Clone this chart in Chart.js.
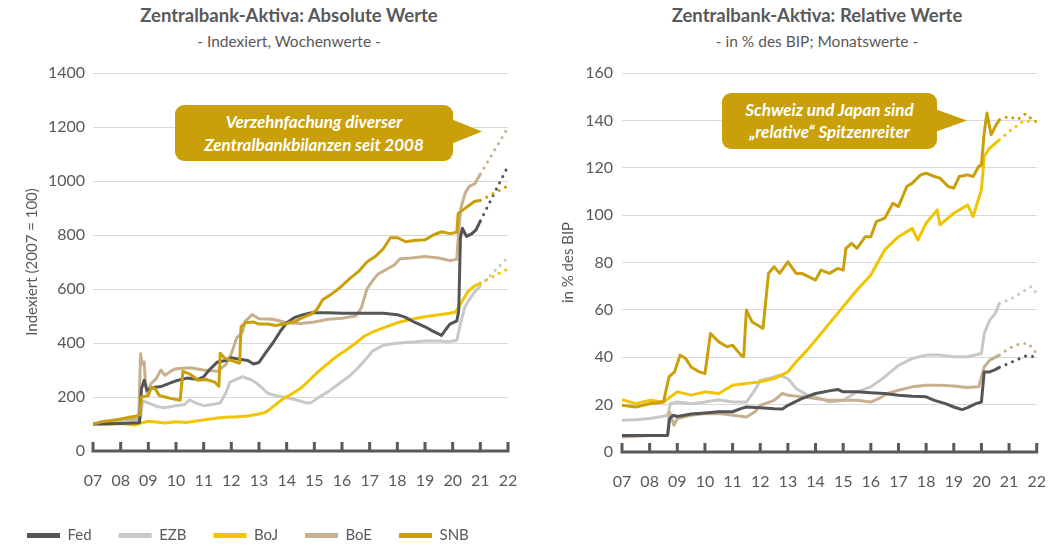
<!DOCTYPE html>
<html>
<head>
<meta charset="utf-8">
<script src="https://cdn.jsdelivr.net/npm/chart.js@4.4.1/dist/chart.umd.min.js"></script>
<style>
  body { margin: 0; background: #fff; width: 1058px; height: 548px; overflow: hidden; position: relative; font-family: Lato, sans-serif; color: #595959; }
  #absChart { position: absolute; left: 0; top: 0; }
  #relChart { position: absolute; left: 548px; top: 0; }
  .title { position: absolute; width: 400px; text-align: center; font-weight: bold; font-size: 18.5px; top: 4px; line-height: 22px; }
  .subtitle { position: absolute; width: 400px; text-align: center; font-size: 15.5px; top: 31px; line-height: 20px; }
  .callout { position: absolute; background: #c9a00a; color: #fff; font: italic bold 17px Lato, sans-serif; text-align: center; border-radius: 9px; line-height: 23px; display: flex; align-items: center; justify-content: center; }
  .pointer { position: absolute; background: #c9a00a; clip-path: polygon(0 0, 100% 50%, 0 100%); }
</style>
</head>
<body>
<div class="title" style="left:89px;">Zentralbank-Aktiva: Absolute Werte</div>
<div class="subtitle" style="left:89px;">- Indexiert, Wochenwerte -</div>
<div class="title" style="left:617px;">Zentralbank-Aktiva: Relative Werte</div>
<div class="subtitle" style="left:617px;">- in % des BIP; Monatswerte -</div>

<canvas id="absChart" width="570" height="548"></canvas>
<canvas id="relChart" width="510" height="500"></canvas>

<div class="callout" style="left:175px; top:105px; width:278px; height:56px;">Verzehnfachung diverser<br>Zentralbankbilanzen seit 2008</div>
<div class="pointer" style="left:451px; top:119px; width:31px; height:25px;"></div>
<div class="callout" style="left:722px; top:93px; width:215px; height:56px; line-height:22px;">Schweiz und Japan sind<br>„relative“ Spitzenreiter</div>
<div class="pointer" style="left:935px; top:109px; width:32px; height:23px;"></div>

<script>
// Legend / series
const banks = ['Fed', 'EZB', 'BoJ', 'BoE', 'SNB'];
const bankColors = ['#555555', '#c8c8c8', '#f0c400', '#c8b08e', '#c9a00a'];
const drawOrder = [1, 4, 2, 3, 0]; // SNB on top
const yearLabels = ['07', '08', '09', '10', '11', '12', '13', '14', '15', '16', '17', '18', '19', '20', '21', '22'];

// Absolute values, index 2007 = 100 (weekly)
const fedAbs = [[2007,100],[2007.5,101],[2008,102],[2008.3,103],[2008.68,105],[2008.75,230],[2008.85,262],[2008.95,225],[2009.2,235],[2009.5,240],[2009.8,252],[2010,260],[2010.4,270],[2010.8,265],[2011,275],[2011.2,300],[2011.5,330],[2011.8,335],[2012,345],[2012.3,340],[2012.6,335],[2012.8,322],[2013,328],[2013.25,365],[2013.5,400],[2013.75,440],[2014,475],[2014.3,495],[2014.6,505],[2014.9,512],[2015.5,512],[2016,510],[2016.5,510],[2017,510],[2017.5,510],[2018,505],[2018.3,495],[2018.6,478],[2019,460],[2019.3,443],[2019.6,428],[2019.75,450],[2019.9,470],[2020.15,482],[2020.22,520],[2020.28,790],[2020.35,825],[2020.5,795],[2020.7,805],[2020.85,820],[2021,852]];
const ezbAbs = [[2007,100],[2007.5,105],[2008,110],[2008.4,112],[2008.7,118],[2008.8,185],[2009,178],[2009.3,165],[2009.6,160],[2010,168],[2010.3,172],[2010.5,190],[2010.7,178],[2011,168],[2011.3,172],[2011.6,178],[2011.8,215],[2011.95,255],[2012.1,262],[2012.4,275],[2012.7,265],[2012.9,252],[2013.1,235],[2013.3,215],[2013.6,205],[2014,198],[2014.4,188],[2014.7,178],[2014.9,180],[2015.1,195],[2015.5,220],[2015.9,250],[2016.3,280],[2016.6,310],[2016.9,345],[2017.1,370],[2017.5,392],[2017.9,398],[2018.3,402],[2018.7,405],[2019,407],[2019.5,407],[2019.9,405],[2020.15,410],[2020.3,480],[2020.45,535],[2020.6,560],[2020.8,590],[2021,612]];
const bojAbs = [[2007,100],[2007.5,98],[2008,102],[2008.5,96],[2008.8,105],[2009,110],[2009.3,107],[2009.6,104],[2010,108],[2010.4,106],[2010.8,112],[2011.2,118],[2011.5,122],[2011.8,125],[2012.2,127],[2012.6,130],[2012.9,135],[2013.2,142],[2013.4,155],[2013.6,172],[2013.9,195],[2014.2,212],[2014.5,232],[2014.8,260],[2015.1,290],[2015.5,325],[2015.8,350],[2016.1,370],[2016.5,400],[2016.8,425],[2017.2,445],[2017.6,460],[2018,475],[2018.5,488],[2019,497],[2019.5,505],[2019.9,510],[2020.1,515],[2020.3,548],[2020.55,590],[2020.8,612],[2021,622]];
const boeAbs = [[2007,100],[2007.4,105],[2007.8,115],[2008.1,120],[2008.4,118],[2008.65,115],[2008.72,360],[2008.78,320],[2008.85,330],[2008.9,250],[2008.95,215],[2009.1,250],[2009.3,270],[2009.45,300],[2009.6,280],[2009.8,295],[2010,305],[2010.5,308],[2011,300],[2011.5,295],[2011.8,320],[2012,360],[2012.2,420],[2012.4,440],[2012.5,480],[2012.75,505],[2013,490],[2013.5,488],[2014,475],[2014.5,472],[2015,478],[2015.5,488],[2016,492],[2016.5,500],[2016.7,530],[2016.9,600],[2017.1,630],[2017.3,655],[2017.6,672],[2017.9,690],[2018.1,712],[2018.5,715],[2019,720],[2019.5,715],[2019.9,705],[2020.15,710],[2020.22,820],[2020.3,900],[2020.45,955],[2020.6,980],[2020.8,990],[2021,1025]];
const snbAbs = [[2007,100],[2007.3,108],[2007.6,112],[2008,118],[2008.3,125],[2008.6,130],[2008.7,135],[2008.75,200],[2009,205],[2009.1,235],[2009.25,230],[2009.4,205],[2009.6,200],[2009.8,195],[2010.15,188],[2010.25,295],[2010.5,285],[2010.8,262],[2011.1,265],[2011.4,255],[2011.55,240],[2011.6,362],[2011.75,345],[2012,335],[2012.3,325],[2012.35,460],[2012.5,475],[2012.8,478],[2013,470],[2013.3,470],[2013.6,465],[2014,472],[2014.3,480],[2014.6,495],[2014.9,508],[2015.1,525],[2015.3,560],[2015.6,580],[2015.8,595],[2016,612],[2016.3,640],[2016.6,665],[2016.9,700],[2017.2,720],[2017.5,750],[2017.75,790],[2018,790],[2018.3,775],[2018.6,780],[2019,782],[2019.3,800],[2019.6,812],[2019.9,805],[2020.15,810],[2020.2,880],[2020.4,895],[2020.6,910],[2020.8,925],[2021,928]];

// Absolute values, dotted outlook to 2022
const fedAbsProj = [[2021,852],[2022,1055]];
const ezbAbsProj = [[2021,612],[2022,718]];
const bojAbsProj = [[2021,622],[2022,675]];
const boeAbsProj = [[2021,1025],[2022,1198]];
const snbAbsProj = [[2021,928],[2022,982]];

// Relative values, % of GDP (monthly)
const fedRel = [[2007,7],[2008,7],[2008.65,7],[2008.72,14],[2008.85,15.5],[2009,15],[2009.5,16],[2010,16.5],[2010.5,17],[2011,17],[2011.3,18.3],[2011.5,19],[2012,18.7],[2012.5,18.3],[2012.8,18.2],[2013,19.7],[2013.5,22.5],[2014,24.7],[2014.5,25.8],[2014.8,26.4],[2015,25.4],[2015.5,25.4],[2016,25],[2016.5,24.7],[2017,24],[2017.5,23.5],[2018,23.3],[2018.3,21.8],[2018.7,20.4],[2019,19],[2019.3,17.9],[2019.5,18.7],[2019.8,20.4],[2020,21.1],[2020.1,33.8],[2020.3,33.8],[2020.5,34.8],[2020.65,35.7]];
const ezbRel = [[2007,13.4],[2007.5,13.6],[2008,14.1],[2008.5,15.1],[2008.65,15.5],[2008.75,20.4],[2009,21.1],[2009.5,20.4],[2010,21.1],[2010.5,22.1],[2011,21.1],[2011.5,21.1],[2011.8,26],[2012,30.3],[2012.3,31],[2012.7,32.4],[2013,31],[2013.3,26.8],[2013.7,24],[2014,23.3],[2014.5,21.1],[2015,21.8],[2015.5,25.4],[2016,27.5],[2016.5,31.7],[2017,36.6],[2017.5,39.5],[2018,40.9],[2018.5,40.9],[2019,40.2],[2019.5,40.2],[2020,41.6],[2020.1,50],[2020.3,55.7],[2020.5,58.5],[2020.65,62.7]];
const bojRel = [[2007,22.1],[2007.5,20.4],[2008,21.8],[2008.5,21.1],[2009,25.4],[2009.5,24],[2010,25.4],[2010.5,24.7],[2011,28.2],[2011.5,28.9],[2012,29.6],[2012.5,31],[2013,33.8],[2013.3,38.1],[2013.7,43],[2014,47.2],[2014.5,54.3],[2015,61.3],[2015.5,68.4],[2016,74.7],[2016.5,85.3],[2017,90.9],[2017.5,94.4],[2017.7,89.5],[2018,96.6],[2018.4,102.2],[2018.5,95.9],[2019,100.8],[2019.5,104.3],[2019.7,99.4],[2020,110.7],[2020.1,124.8],[2020.3,128.3],[2020.65,131.8]];
const boeRel = [[2007,6.3],[2008,7],[2008.5,7],[2008.65,7],[2008.72,16.9],[2008.88,11.3],[2009,14.1],[2009.5,15.5],[2010,16.2],[2010.5,16.2],[2011,15.5],[2011.5,14.8],[2011.8,16.9],[2012,19.7],[2012.5,21.8],[2012.8,24.7],[2013,24],[2013.5,23.3],[2014,22.6],[2014.5,21.8],[2015,21.8],[2015.5,21.8],[2016,21.1],[2016.3,22.6],[2016.6,24.7],[2017,26.1],[2017.5,27.5],[2018,28.2],[2018.5,28.2],[2019,27.9],[2019.5,27.2],[2019.9,27.5],[2020.1,35.9],[2020.3,38.8],[2020.65,40.9]];
const snbRel = [[2007,19.7],[2007.5,19],[2008,20.4],[2008.5,21.1],[2008.7,31.7],[2008.9,33.8],[2009.1,40.9],[2009.3,39.5],[2009.5,35.9],[2009.8,33.8],[2010,33.1],[2010.2,50],[2010.5,46.5],[2010.8,44.4],[2011,45.1],[2011.3,40.9],[2011.4,40.2],[2011.5,59.9],[2011.7,55],[2012,52.9],[2012.1,52.2],[2012.3,75.4],[2012.5,78.2],[2012.7,75.4],[2013,80.3],[2013.3,75.4],[2013.5,75.4],[2014,72.6],[2014.2,76.8],[2014.5,75.4],[2014.8,77.5],[2015,76.8],[2015.1,86],[2015.3,88.1],[2015.5,86],[2015.8,90.9],[2016,90.9],[2016.2,97.3],[2016.5,98.7],[2016.8,105],[2017,103.6],[2017.3,112.1],[2017.5,113.5],[2017.8,117],[2018,117.7],[2018.3,116.3],[2018.5,115.6],[2018.8,112.1],[2019,111.4],[2019.2,116.3],[2019.5,117],[2019.7,116.3],[2019.9,120.5],[2020,121.2],[2020.1,134.6],[2020.2,143.1],[2020.35,133.9],[2020.5,137.4],[2020.65,140.3]];

// Relative values, dotted outlook to 2022
const fedRelProj = [[2020.65,35.7],[2021.2,38.5],[2021.6,40.5],[2022,40.2]];
const ezbRelProj = [[2020.65,62.7],[2021.1,64.8],[2021.5,67.7],[2021.8,69.8],[2022,67]];
const bojRelProj = [[2020.65,131.8],[2021,135.3],[2021.5,139.6],[2022,139.6]];
const boeRelProj = [[2020.65,40.9],[2021,43.7],[2021.4,45.8],[2021.7,45.8],[2022,41.6]];
const snbRelProj = [[2020.65,140.3],[2021,141.7],[2021.3,140.3],[2021.6,142.8],[2021.9,139.6],[2022,139.6]];

const textColor = '#595959';
const gridColor = '#d9d9d9';

// bottom axis with tick marks pointing up
const axisTicks = {
  id: 'axisTicks',
  afterDatasetsDraw(chart) {
    const x = chart.scales.x, y = chart.scales.y, ctx = chart.ctx;
    const base = y.getPixelForValue(0);
    ctx.save();
    ctx.strokeStyle = textColor;
    ctx.lineWidth = 3;
    ctx.beginPath();
    ctx.moveTo(x.getPixelForValue(2007) - 1.5, base);
    ctx.lineTo(x.getPixelForValue(2022) + 1.5, base);
    for (let yr = 2007; yr <= 2022; yr++) {
      const px = x.getPixelForValue(yr);
      ctx.moveTo(px, base);
      ctx.lineTo(px, base - 9);
    }
    ctx.stroke();
    ctx.restore();
  }
};

function buildDatasets(series, proj) {
  const sets = series.map((s, i) => ({
    label: banks[i],
    data: s.map(p => ({x: p[0], y: p[1]})),
    borderColor: bankColors[i],
    backgroundColor: bankColors[i],
    borderWidth: 3,
    borderJoinStyle: 'round',
    pointRadius: 0,
    order: drawOrder[i]
  }));
  proj.forEach((s, i) => {
    sets.push({
      label: banks[i] + ' Prognose',
      data: s.map(p => ({x: p[0], y: p[1]})),
      borderColor: bankColors[i],
      borderWidth: 3,
      borderCapStyle: 'round',
      borderDash: [0.1, 7],
      pointRadius: 0,
      order: drawOrder[i],
      proj: true
    });
  });
  return sets;
}

function makeChart(id, cfg) {
  return new Chart(document.getElementById(id), {
    type: 'line',
    data: { datasets: buildDatasets(cfg.series, cfg.proj) },
    plugins: [axisTicks],
    options: {
      responsive: false,
      animation: false,
      layout: { padding: cfg.padding },
      plugins: {
        tooltip: { enabled: false },
        title: { display: false },
        legend: {
          display: cfg.legend,
          position: 'bottom',
          align: 'start',
          maxHeight: 47,
          labels: {
            boxWidth: 33,
            boxHeight: 5,
            padding: 27,
            color: textColor,
            font: { family: 'Lato', size: 15 },
            generateLabels: chart => chart.data.datasets
              .map((ds, i) => ({ text: ds.label, fillStyle: ds.borderColor, strokeStyle: ds.borderColor, lineWidth: 0, fontColor: textColor, hidden: false, datasetIndex: i, proj: ds.proj }))
              .filter(item => !item.proj)
          }
        }
      },
      scales: {
        x: {
          type: 'linear',
          min: 2007,
          max: 2022,
          grid: { display: false },
          border: { display: false },
          afterFit: s => { s.height = cfg.xHeight; },
          ticks: {
            stepSize: 1,
            padding: 12,
            color: textColor,
            font: { family: 'Lato', size: 16 },
            maxRotation: 0,
            autoSkip: false,
            callback: v => yearLabels[v - 2007]
          }
        },
        y: {
          min: 0,
          max: cfg.yMax,
          grid: { color: gridColor, drawTicks: false },
          border: { display: false },
          afterFit: s => { s.width = cfg.yWidth; },
          title: {
            display: true,
            text: cfg.yTitle,
            color: textColor,
            font: { family: 'Lato', size: 15 },
            padding: { top: cfg.yTitlePad, bottom: 0 }
          },
          ticks: {
            stepSize: cfg.yStep,
            padding: cfg.tickPad,
            color: textColor,
            font: { family: 'Lato', size: 16 },
            callback: v => String(v)
          }
        }
      }
    }
  });
}

makeChart('absChart', {
  yTitle: 'Indexiert (2007 = 100)',
  series: [fedAbs, ezbAbs, bojAbs, boeAbs, snbAbs],
  proj: [fedAbsProj, ezbAbsProj, bojAbsProj, boeAbsProj, snbAbsProj],
  yMax: 1400, yStep: 200,
  yWidth: 93, yTitlePad: 23, tickPad: 8,
  xHeight: 50,
  legend: true,
  padding: { left: 0, right: 62, top: 73, bottom: 0 }
});

makeChart('relChart', {
  yTitle: 'in % des BIP',
  series: [fedRel, ezbRel, bojRel, boeRel, snbRel],
  proj: [fedRelProj, ezbRelProj, bojRelProj, boeRelProj, snbRelProj],
  yMax: 160, yStep: 20,
  yWidth: 74, yTitlePad: 11, tickPad: 9,
  xHeight: 48,
  legend: false,
  padding: { left: 0, right: 21, top: 73, bottom: 0 }
});
</script>
</body>
</html>
